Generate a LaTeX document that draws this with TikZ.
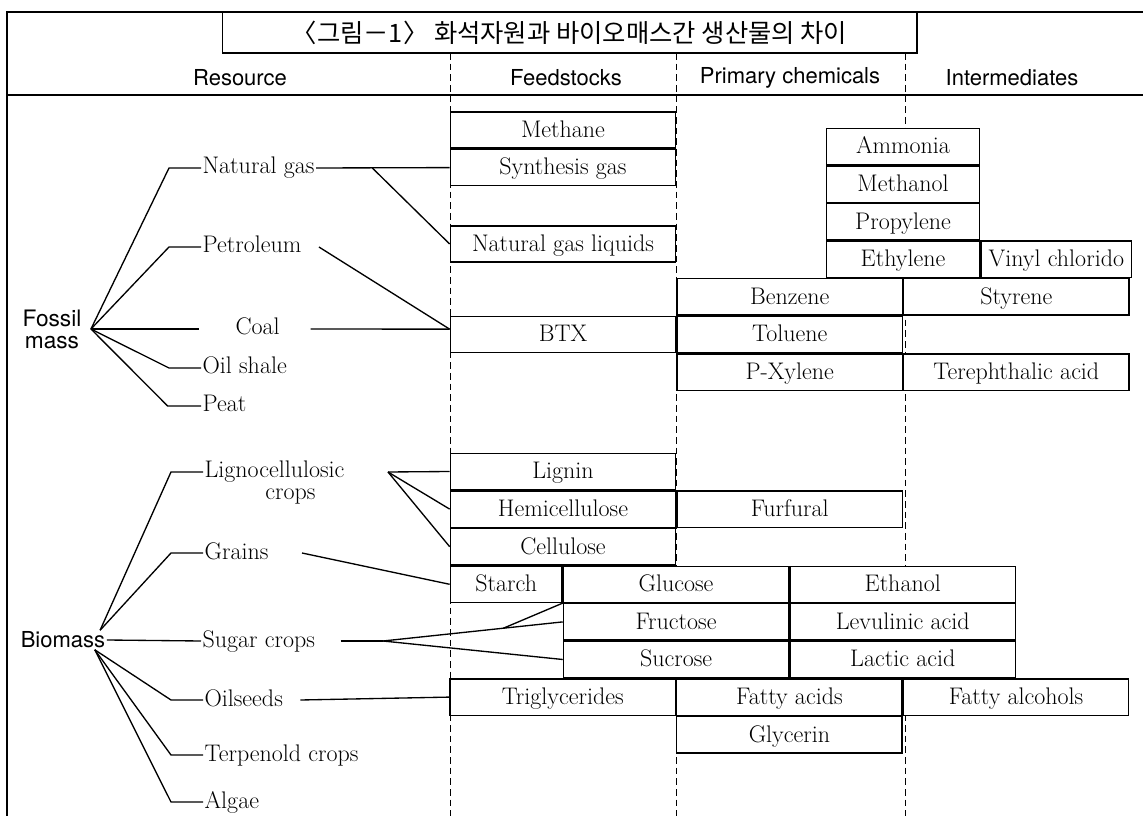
\documentclass[tikz,border=0pt]{standalone}
\usepackage{fontspec}
\usepackage{tikz}
\usetikzlibrary{positioning, calc}
\newfontfamily\hangulfont{Noto Sans CJK KR}
\newfontfamily\headfont{TeX Gyre Heros}
\newcommand{\cellfont}{\fontsize{18}{20}\selectfont\addfontfeatures{LetterSpace=5,WordSpace=2.5}}
\tikzstyle{box} = [rectangle, minimum width=169pt, minimum height=27.2pt, inner sep=0pt, text height=13.5pt, text depth=2.5pt, text centered, draw=black, fill=white, line width=1pt, font=\cellfont]
\tikzstyle{halfbox} = [box, minimum width=83.8pt]
\tikzstyle{thinbox} = [box, minimum width=115pt]
\tikzstyle{resource} = [inner sep=1pt, anchor=west, text height=12.5pt, text depth=3.5pt, font=\cellfont]
\tikzstyle{heading} = [inner sep=1pt, font=\headfont\fontsize{16.5}{14.5}\selectfont]
\tikzstyle{link} = [line width=1pt]
\tikzstyle{outline} = [line width=1.4pt]
\tikzstyle{divider} = [line width=0.7pt, dash pattern=on 5pt off 3pt]

\begin{document}
\begin{tikzpicture}[x=0.75pt, y=-0.75pt, node distance=0pt]
	\useasboundingbox (0,0) rectangle (1143,816);
	% frame and column rules
	\draw [outline] (7,816) -- (7,12) -- (1143,12);
	\draw [outline] (7,95) -- (1143,95);
	\foreach \x in {450,676,905}
		\draw [divider] (\x,53) -- (\x,816);
	\node (title) [rectangle, draw=black, fill=white, line width=1pt, minimum width=521pt, minimum height=30.8pt, font=\hangulfont\fontsize{19}{21}\selectfont] at (569.5,32.5) {〈그림－1〉 화석자원과 바이오매스간 생산물의 차이};
	\node (resource) [heading] at (240,78) {Resource};
	\node (feed) [heading] at (566,78) {Feedstocks};
	\node (primary) [heading] at (790,78) {Primary chemicals};
	\node (inter) [heading] at (1012,78) {Intermediates};

	% fossil mass
	\node (fossil) [heading, align=center, font=\headfont\fontsize{17}{16.5}\selectfont] at (52,329) {Fossil\\mass};
	\coordinate (fhub) at ([xshift=6pt]fossil.east);
	\node (natgas) [resource] at (201,168) {Natural gas};
	\node (petrol) [resource] at (201,247) {Petroleum};
	\node (coal) [resource] at (234,329) {Coal};
	\node (oilshale) [resource] at (201,368) {Oil shale};
	\node (peat) [resource] at (201,406) {Peat};

	\node (methane) [box] at (563,130) {Methane};
	\node (syngas) [box, below=of methane] {Synthesis gas};
	\node (ngl) [box] at (563,244) {Natural gas liquids};
	\node (btx) [box] at (563,334.5) {BTX};
	\node (toluene) [box, right=of btx] {Toluene};
	\node (benzene) [box, above=of toluene] {Benzene};
	\node (pxylene) [box, below=of toluene] {P-Xylene};
	\node (styrene) [box, right=of benzene] {Styrene};
	\node (tpa) [box, right=of pxylene] {Terephthalic acid};
	\node (ethylene) [thinbox, above=of benzene.north east] {Ethylene};
	\node (propylene) [thinbox, above=of ethylene] {Propylene};
	\node (methanol) [thinbox, above=of propylene] {Methanol};
	\node (ammonia) [thinbox, above=of methanol] {Ammonia};
	\node (vinyl) [thinbox, minimum width=113pt, right=of ethylene] {Vinyl chlorido};

	\draw [link] (fhub) -- ([xshift=-24pt]natgas.west) -- (natgas.west);
	\draw [link] (fhub) -- ([xshift=-24pt]petrol.west) -- (petrol.west);
	\draw [link] (fhub) -- ([xshift=-26pt]coal.west);
	\draw [link] (fhub) -- ([xshift=-24pt]oilshale.west) -- (oilshale.west);
	\draw [link] (fhub) -- ([xshift=-25pt]peat.west) -- (peat.west);
	\draw [link] (natgas.east) -- (syngas.west);
	\draw [link] ($(natgas.east)!0.42!(syngas.west)$) -- (ngl.west);
	\draw [link] ([xshift=12pt]petrol.east) -- ([yshift=4pt]btx.west);
	\draw [link] ([xshift=22pt]coal.east) -- ([yshift=4pt]btx.west);

	% biomass
	\node (biomass) [heading] at (63,640) {Biomass};
	\coordinate (bup) at ([xshift=-5pt]biomass.north east);
	\coordinate (blow) at ([xshift=-9pt]biomass.south east);
	\node (ligno) [resource, label={[resource, anchor=north, xshift=12pt, yshift=2pt]below:crops}] at (203,472) {Lignocellulosic};
	\node (grains) [resource] at (203,553) {Grains};
	\node (sugar) [resource] at (201,641) {Sugar crops};
	\node (oilseeds) [resource] at (203,700) {Oilseeds};
	\node (terpen) [resource] at (203,755) {Terpenold crops};
	\node (algae) [resource] at (203,802) {Algae};

	\node (lignin) [box] at (563,471.5) {Lignin};
	\node (hemi) [box, below=of lignin] {Hemicellulose};
	\node (cellulose) [box, below=of hemi] {Cellulose};
	\node (furfural) [box, right=of hemi] {Furfural};
	\node (starch) [halfbox, below=of cellulose.south west, anchor=north west] {Starch};
	\node (glucose) [box, right=of starch] {Glucose};
	\node (ethanol) [box, right=of glucose] {Ethanol};
	\node (fructose) [box, below=of glucose] {Fructose};
	\node (sucrose) [box, below=of fructose] {Sucrose};
	\node (levulinic) [box, below=of ethanol] {Levulinic acid};
	\node (lactic) [box, below=of levulinic] {Lactic acid};
	\node (trig) [box, below=of sucrose.south west] {Triglycerides};
	\node (fattyacid) [box, right=of trig] {Fatty acids};
	\node (glycerin) [box, below=of fattyacid] {Glycerin};
	\node (fattyalc) [box, right=of fattyacid] {Fatty alcohols};

	\draw [link] (bup) -- ([xshift=-24pt]ligno.west) -- (ligno.west);
	\draw [link] (bup) -- ([xshift=-24pt]grains.west) -- (grains.west);
	\draw [link] (biomass.east) -- (sugar.west);
	\draw [link] (blow) -- ([xshift=-24pt]oilseeds.west) -- (oilseeds.west);
	\draw [link] (blow) -- ([xshift=-24pt]terpen.west) -- (terpen.west);
	\draw [link] (blow) -- ([xshift=-24pt]algae.west) -- (algae.west);
	\coordinate (lhub) at (388,472);
	\draw [link] (lhub) -- (lignin.west);
	\draw [link] (lhub) -- (hemi.west);
	\draw [link] (lhub) -- (cellulose.west);
	\draw [link] ([xshift=24pt]grains.east) -- (starch.west);
	\coordinate (shub) at (383,641);
	\draw [link] ([xshift=18pt]sugar.east) -- (shub);
	\draw [link] (shub) -- (fructose.west);
	\draw [link] (shub) -- (sucrose.west);
	\draw [link] ($(shub)!0.67!(fructose.west)$) -- (fructose.north west);
	\draw [link] ([xshift=12pt]oilseeds.east) -- (trig.west);
\end{tikzpicture}
\end{document}
